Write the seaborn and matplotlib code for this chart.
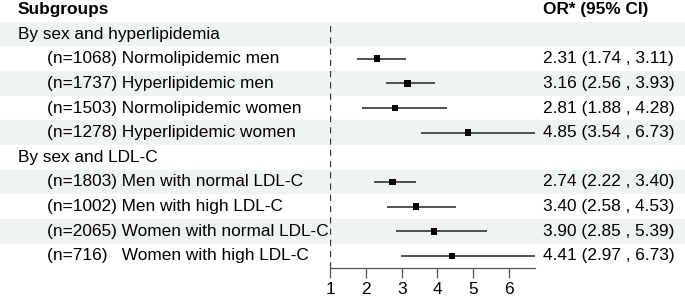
import matplotlib
matplotlib.use("Agg")
import matplotlib.pyplot as plt
import seaborn as sns
import pandas as pd

# ---------------- data ----------------
row_labels = [
    "By sex and hyperlipidemia",
    "(n=1068) Normolipidemic men",
    "(n=1737) Hyperlipidemic men",
    "(n=1503) Normolipidemic women",
    "(n=1278) Hyperlipidemic women",
    "By sex and LDL-C",
    "(n=1803) Men with normal LDL-C",
    "(n=1002) Men with high LDL-C",
    "(n=2065) Women with normal LDL-C",
    "(n=716)   Women with high LDL-C",
]
is_group = [True, False, False, False, False, True, False, False, False, False]
or_vals = [None, 2.31, 3.16, 2.81, 4.85, None, 2.74, 3.40, 3.90, 4.41]
ci_low = [None, 1.74, 2.56, 1.88, 3.54, None, 2.22, 2.58, 2.85, 2.97]
ci_high = [None, 3.11, 3.93, 4.28, 6.73, None, 3.40, 4.53, 5.39, 6.73]
or_text = ["", "2.31 (1.74 , 3.11)", "3.16 (2.56 , 3.93)", "2.81 (1.88 , 4.28)",
           "4.85 (3.54 , 6.73)", "", "2.74 (2.22 , 3.40)", "3.40 (2.58 , 4.53)",
           "3.90 (2.85 , 5.39)", "4.41 (2.97 , 6.73)"]
xticks = [1, 2, 3, 4, 5, 6]
header_left = "Subgroups"
header_right = "OR* (95% CI)"

rows = list(range(1, len(row_labels) + 1))
df = pd.DataFrame({"row": rows, "label": row_labels, "group": is_group,
                   "est": or_vals, "lo": ci_low, "hi": ci_high, "txt": or_text})
dfp = df.dropna(subset=["est"])

# ---------------- figure ----------------
plt.rcParams["font.family"] = ["Liberation Sans", "DejaVu Sans"]
W, H = 685, 298
fig = plt.figure(figsize=(W / 100, H / 100), dpi=100)

top_px, bot_px = 21.7, 268.3
x1_px, x2_px = 330.3, 535.0
ax_bottom = (H - bot_px) / H
ax_height = (bot_px - top_px) / H
n = len(rows)

# background / table axes
bg = fig.add_axes([0, ax_bottom, 1, ax_height])
bg.set_xlim(0, W)
bg.set_ylim(n + 0.5, 0.5)
bg.axis("off")
for r in rows:
    if r % 2 == 1:
        bg.axhspan(r - 0.5, r + 0.5, color="#eff3f2", lw=0, zorder=0)

fs = 12.4
bg.text(18, 0.0, header_left, fontsize=fs, fontweight="bold", va="center", ha="left", clip_on=False)
bg.text(543, 0.0, header_right, fontsize=fs, fontweight="bold", va="center", ha="left", clip_on=False)
for _, d in df.iterrows():
    xpos = 18 if d["group"] else 47
    bg.text(xpos, d["row"], d["label"], fontsize=fs, va="center", ha="left", color="black")
    if d["txt"]:
        bg.text(543, d["row"], d["txt"], fontsize=fs, va="center", ha="left", color="black")

# forest axes
ax = fig.add_axes([x1_px / W, ax_bottom, (x2_px - x1_px) / W, ax_height])
ax.patch.set_alpha(0)
ax.set_xlim(1, 6.73)
ax.set_ylim(n + 0.5, 0.5)

ax.axvline(1, color="#333333", lw=0.9, dashes=(5, 4), zorder=1)
ax.hlines(dfp["row"], dfp["lo"], dfp["hi"], color="#222222", lw=1.1, zorder=2, clip_on=False)
sns.scatterplot(data=dfp, x="est", y="row", marker="s", s=22, color="black",
                edgecolor="none", ax=ax, zorder=3, legend=False)
ax.set_xlim(1, 6.73)
ax.set_ylim(n + 0.5, 0.5)

for s in ["top", "right", "left"]:
    ax.spines[s].set_visible(False)
ax.spines["bottom"].set_color("#555555")
ax.spines["bottom"].set_linewidth(0.9)
ax.set_yticks([])
ax.set_xticks(xticks)
ax.set_xticklabels([str(t) for t in xticks])
ax.tick_params(axis="x", direction="out", length=7, width=0.9, color="#555555",
               labelsize=fs, labelcolor="black", pad=3)
ax.set_xlabel("")
ax.set_ylabel("")

fig.savefig("out.png", dpi=100)
